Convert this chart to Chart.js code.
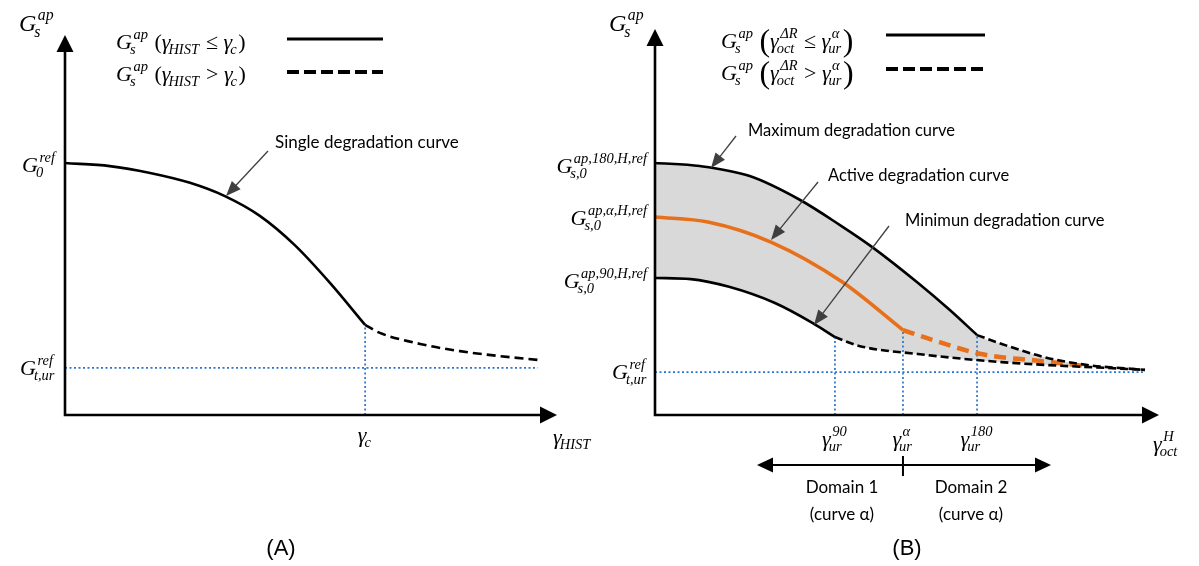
<!DOCTYPE html>
<html><head><meta charset="utf-8">
<script src="https://cdn.jsdelivr.net/npm/chart.js@4.4.1/dist/chart.umd.min.js"></script>
<style>
html,body{margin:0;padding:0;background:#fff;}
#wrap{position:relative;width:1199px;height:566px;background:#fff;}
canvas{position:absolute;left:0;top:0;}
</style>
</head><body>
<div id="wrap"><canvas id="cA" width="1199" height="566"></canvas><canvas id="cB" width="1199" height="566"></canvas></div>
<script>
// ===== Panel A data (arbitrary units: x = gamma_HIST, y = G_s^ap) =====
const aSolidX = [0, 0.91, 1.73, 2.54, 3.25, 3.96, 4.67, 5.39, 6.10];
const aSolidY = [6.63, 6.55, 6.37, 6.11, 5.76, 5.24, 4.47, 3.47, 2.37];
const aDashX  = [6.10, 6.40, 7.22, 8.03, 8.84, 9.61];
const aDashY  = [2.37, 2.16, 1.87, 1.68, 1.55, 1.45];
const aGammaC = 6.10;
const aGtur   = 1.24;

// ===== Panel B data (x = gamma_oct^H, y = G_s^ap) =====
const maxSolidX = [0, 0.89, 1.88, 2.88, 3.67, 4.31, 5.22, 5.85, 6.39];
const maxSolidY = [6.53, 6.45, 6.19, 5.57, 4.92, 4.35, 3.42, 2.72, 2.07];
const maxDashX  = [6.39, 6.88, 7.72, 8.55, 9.72];
const maxDashY  = [2.07, 1.84, 1.50, 1.30, 1.17];
const actSolidX = [0, 1.05, 2.30, 3.71, 4.92];
const actSolidY = [5.13, 5.00, 4.48, 3.45, 2.20];
const actDashX  = [4.92, 5.40, 6.47, 7.64, 8.53];
const actDashY  = [2.20, 1.99, 1.58, 1.40, 1.27];
const minSolidX = [0, 0.71, 1.47, 2.38, 3.13, 3.57];
const minSolidY = [3.55, 3.52, 3.32, 2.90, 2.38, 2.02];
const minDashX  = [3.57, 4.05, 5.22, 6.88, 9.72];
const minDashY  = [2.02, 1.79, 1.58, 1.37, 1.17];
const gUr90  = 3.57;
const gUrA   = 4.92;
const gUr180 = 6.39;
const bGtur  = 1.11;

// ===== styles =====
const SERIF = "'Liberation Serif','DejaVu Serif',serif";
const SANS = "Lato,'Open Sans',sans-serif";
const BLUE = '#2E74C9';
const ORANGE = '#E8701A';
const GREY = '#D9D9D9';
const ARW = '#3F3F3F';
const MS = 22;   // math text size

const pts = (xs, ys) => xs.map((x, i) => ({x: x, y: ys[i]}));
function curve(xs, ys, color, width, dash, order) {
  return {data: pts(xs, ys), borderColor: color, borderWidth: width, borderDash: dash || [],
    pointRadius: 0, fill: false, cubicInterpolationMode: 'monotone', order: order || 0,
    borderCapStyle: 'butt'};
}
function straight(xs, ys, order) {
  return {data: pts(xs, ys), borderColor: BLUE, borderWidth: 1.7, borderDash: [2, 2.5],
    pointRadius: 0, fill: false, tension: 0, order: order || 5};
}

function fnt(size, italic) { return (italic ? 'italic ' : '') + size.toFixed(1) + 'px ' + SERIF; }
function drawMath(ctx, toks, x, y, size, align) {
  const ss = size * 0.66;
  const parts = toks.map(tk => {
    const sz = size * (tk.scale || 1);
    const f = fnt(sz, tk.i !== false);
    ctx.font = f;
    const w = ctx.measureText(tk.t).width;
    ctx.font = fnt(ss, true);
    const subW = tk.sub ? ctx.measureText(tk.sub).width : 0;
    const supW = tk.sup ? ctx.measureText(tk.sup).width : 0;
    let sw = 0;
    if (tk.sub || tk.sup) sw = Math.max(subW - 2, supW + 1) + 1.5;
    return {tk, f, w, sw, sz};
  });
  const total = parts.reduce((s, p) => s + p.w + p.sw, 0);
  let cx = align === 'right' ? x - total : align === 'center' ? x - total / 2 : x;
  ctx.fillStyle = '#000'; ctx.textBaseline = 'alphabetic'; ctx.textAlign = 'left';
  for (const p of parts) {
    ctx.font = p.f;
    const dy = (p.sz - size) * 0.27;
    ctx.fillText(p.tk.t, cx, y + dy);
    ctx.font = fnt(ss, true);
    if (p.tk.sup) ctx.fillText(p.tk.sup, cx + p.w + 1.5, y - size * 0.45);
    if (p.tk.sub) ctx.fillText(p.tk.sub, cx + p.w - 2, y + size * 0.24);
    cx += p.w + p.sw;
  }
}
function sans(ctx, text, x, y, size, align, family) {
  ctx.font = size + 'px ' + (family || SANS);
  ctx.fillStyle = '#000'; ctx.textAlign = align || 'left'; ctx.textBaseline = 'middle';
  ctx.fillText(text, x, y);
}
function head(ctx, x1, y1, x2, y2, len, half, color) {
  const a = Math.atan2(y2 - y1, x2 - x1), c = Math.cos(a), s = Math.sin(a);
  ctx.beginPath();
  ctx.moveTo(x2, y2);
  ctx.lineTo(x2 - len * c + half * s, y2 - len * s - half * c);
  ctx.lineTo(x2 - len * c - half * s, y2 - len * s + half * c);
  ctx.closePath(); ctx.fillStyle = color; ctx.fill();
}
function pointer(ctx, x1, y1, x2, y2) {
  const a = Math.atan2(y2 - y1, x2 - x1);
  ctx.beginPath(); ctx.moveTo(x1, y1);
  ctx.lineTo(x2 - 12 * Math.cos(a), y2 - 12 * Math.sin(a));
  ctx.strokeStyle = ARW; ctx.lineWidth = 1.3; ctx.setLineDash([]); ctx.stroke();
  head(ctx, x1, y1, x2, y2, 15, 6, ARW);
}
function axes(ctx, a) {
  ctx.save();
  ctx.strokeStyle = '#000'; ctx.lineWidth = 2.6; ctx.setLineDash([]); ctx.lineJoin = 'miter';
  ctx.beginPath();
  ctx.moveTo(a.left, a.top + 14); ctx.lineTo(a.left, a.bottom); ctx.lineTo(a.right - 14, a.bottom);
  ctx.stroke();
  head(ctx, a.left, a.bottom, a.left, a.top, 17, 8.5, '#000');
  head(ctx, a.left, a.bottom, a.right, a.bottom, 17, 8.5, '#000');
  ctx.restore();
}
function legendLine(ctx, x1, x2, y, dashed) {
  ctx.beginPath(); ctx.moveTo(x1, y); ctx.lineTo(x2, y);
  ctx.strokeStyle = '#000'; ctx.lineWidth = dashed ? 4 : 3;
  ctx.setLineDash(dashed ? [12, 5] : []); ctx.stroke(); ctx.setLineDash([]);
}

const G = (sub, sup) => ({t: 'G', sub: sub, sup: sup});
const gam = (sub, sup) => ({t: 'γ', sub: sub, sup: sup});
const op = t => ({t: t, i: false});

const decoA = {
  id: 'decoA',
  afterDatasetsDraw(chart) {
    const ctx = chart.ctx, a = chart.chartArea, xs = chart.scales.x, ys = chart.scales.y;
    ctx.save();
    axes(ctx, a);
    drawMath(ctx, [G('s', 'ap')], 19, 31, 24, 'left');
    drawMath(ctx, [G('s', 'ap'), op(' ('), gam('HIST'), op(' ≤ '), gam('c'), op(')')], 116, 49, MS, 'left');
    drawMath(ctx, [G('s', 'ap'), op(' ('), gam('HIST'), op(' > '), gam('c'), op(')')], 116, 81, MS, 'left');
    legendLine(ctx, 287, 383, 39, false);
    legendLine(ctx, 287, 383, 72, true);
    drawMath(ctx, [G('0', 'ref')], 56, ys.getPixelForValue(aSolidY[0]) + 9, MS, 'right');
    drawMath(ctx, [G('t,ur', 'ref')], 56, ys.getPixelForValue(aGtur) + 7, MS, 'right');
    drawMath(ctx, [gam('c')], xs.getPixelForValue(aGammaC), 442, MS, 'center');
    drawMath(ctx, [gam('HIST')], 553, 444, MS, 'left');
    sans(ctx, 'Single degradation curve', 275, 143, 17);
    pointer(ctx, 268, 151, 226, 196);
    sans(ctx, '(A)', 281, 549, 22, 'center', "'Liberation Sans',Arial,sans-serif");
    ctx.restore();
  }
};

const decoB = {
  id: 'decoB',
  afterDatasetsDraw(chart) {
    const ctx = chart.ctx, a = chart.chartArea, xs = chart.scales.x, ys = chart.scales.y;
    ctx.save();
    axes(ctx, a);
    drawMath(ctx, [G('s', 'ap')], 609, 31, 24, 'left');
    drawMath(ctx, [G('s', 'ap'), op(' '), {t: '(', i: false, scale: 1.45}, gam('oct', 'ΔR'), op(' ≤ '), gam('ur', 'α'), {t: ')', i: false, scale: 1.45}], 721, 48, MS, 'left');
    drawMath(ctx, [G('s', 'ap'), op(' '), {t: '(', i: false, scale: 1.45}, gam('oct', 'ΔR'), op(' > '), gam('ur', 'α'), {t: ')', i: false, scale: 1.45}], 721, 80, MS, 'left');
    legendLine(ctx, 886, 985, 35, false);
    legendLine(ctx, 886, 985, 69, true);
    drawMath(ctx, [G('s,0', 'ap,180,H,ref')], 648, ys.getPixelForValue(maxSolidY[0]) + 10, MS, 'right');
    drawMath(ctx, [G('s,0', 'ap,α,H,ref')], 648, ys.getPixelForValue(actSolidY[0]) + 8, MS, 'right');
    drawMath(ctx, [G('s,0', 'ap,90,H,ref')], 648, ys.getPixelForValue(minSolidY[0]) + 10, MS, 'right');
    drawMath(ctx, [G('t,ur', 'ref')], 648, ys.getPixelForValue(bGtur) + 7, MS, 'right');
    drawMath(ctx, [gam('ur', '90')], xs.getPixelForValue(gUr90), 446, MS, 'center');
    drawMath(ctx, [gam('ur', 'α')], xs.getPixelForValue(gUrA), 446, MS, 'center');
    drawMath(ctx, [gam('ur', '180')], xs.getPixelForValue(gUr180), 446, MS, 'center');
    drawMath(ctx, [gam('oct', 'H')], 1153, 451, MS, 'left');
    sans(ctx, 'Maximum degradation curve', 748, 131, 16.5);
    pointer(ctx, 736, 136, 711, 168);
    sans(ctx, 'Active degradation curve', 828, 176, 16.5);
    pointer(ctx, 818, 182, 771, 240);
    sans(ctx, 'Minimun degradation curve', 905, 221, 16.5);
    pointer(ctx, 889, 226, 814, 325);
    // domain arrow
    const xa = xs.getPixelForValue(gUrA);
    ctx.beginPath(); ctx.moveTo(770, 465); ctx.lineTo(1038, 465);
    ctx.strokeStyle = '#000'; ctx.lineWidth = 2.2; ctx.stroke();
    head(ctx, 1000, 465, 1051, 465, 16, 7.5, '#000');
    head(ctx, 800, 465, 757, 465, 16, 7.5, '#000');
    ctx.beginPath(); ctx.moveTo(xa, 456); ctx.lineTo(xa, 476); ctx.lineWidth = 2; ctx.stroke();
    sans(ctx, 'Domain 1', 842, 488, 17, 'center');
    sans(ctx, '(curve α)', 842, 515, 17, 'center');
    sans(ctx, 'Domain 2', 971, 488, 17, 'center');
    sans(ctx, '(curve α)', 971, 515, 17, 'center');
    sans(ctx, '(B)', 907, 549, 22, 'center', "'Liberation Sans',Arial,sans-serif");
    ctx.restore();
  }
};

function baseOptions(pad) {
  return {
    responsive: false, animation: false, events: [],
    layout: {padding: pad},
    plugins: {legend: {display: false}, tooltip: {enabled: false}},
    scales: {
      x: {type: 'linear', min: 0, max: 10, display: false},
      y: {type: 'linear', min: 0, max: 10, display: false}
    }
  };
}

new Chart(document.getElementById('cA'), {
  type: 'line',
  data: {datasets: [
    curve(aSolidX, aSolidY, '#000', 2.6, [], 0),
    curve(aDashX, aDashY, '#000', 2.6, [9, 5], 0),
    straight([0, aDashX[aDashX.length - 1]], [aGtur, aGtur]),
    straight([aGammaC, aGammaC], [0, aSolidY[aSolidY.length - 1]])
  ]},
  options: baseOptions({left: 65, right: 642, top: 35, bottom: 151}),
  plugins: [decoA]
});

const upperX = maxSolidX.concat(maxDashX.slice(1)), upperY = maxSolidY.concat(maxDashY.slice(1));
const lowerX = minSolidX.concat(minDashX.slice(1)), lowerY = minSolidY.concat(minDashY.slice(1));
const fillUpper = Object.assign(curve(upperX, upperY, 'rgba(0,0,0,0)', 0, [], 10), {fill: 1, backgroundColor: GREY});
const fillLower = curve(lowerX, lowerY, 'rgba(0,0,0,0)', 0, [], 10);

new Chart(document.getElementById('cB'), {
  type: 'line',
  data: {datasets: [
    fillUpper, fillLower,
    straight([0, maxDashX[maxDashX.length - 1]], [bGtur, bGtur]),
    straight([gUr90, gUr90], [0, minSolidY[minSolidY.length - 1]]),
    straight([gUrA, gUrA], [0, actSolidY[actSolidY.length - 1]]),
    straight([gUr180, gUr180], [0, maxSolidY[maxSolidY.length - 1]]),
    curve(maxSolidX, maxSolidY, '#000', 2.6, [], 0),
    curve(maxDashX, maxDashY, '#000', 2.6, [8, 4], 0),
    curve(minSolidX, minSolidY, '#000', 2.6, [], 0),
    curve(minDashX, minDashY, '#000', 2.6, [8, 4], 0),
    curve(actSolidX, actSolidY, ORANGE, 3.6, [], 0),
    curve(actDashX, actDashY, ORANGE, 4.5, [12, 7], 0)
  ]},
  options: baseOptions({left: 655, right: 40, top: 29, bottom: 151}),
  plugins: [decoB]
});
</script>
</body></html>
